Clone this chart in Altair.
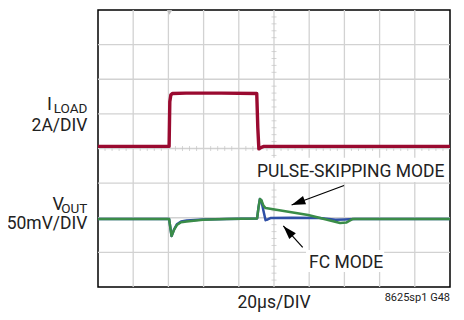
import altair as alt
import pandas as pd

# --- trace data (x in divisions 0..10, y in divisions 0..8) ---
iload_x = [0, 2.02, 2.04, 2.07, 2.12, 2.5, 3.5, 4.51, 4.54, 4.57, 4.62, 4.70, 10]
iload_y = [4.06, 4.06, 5.35, 5.55, 5.59, 5.60, 5.60, 5.59, 4.6, 3.99, 4.02, 4.06, 4.06]

fc_x = [0, 2.02, 2.09, 2.16, 2.24, 2.36, 2.52, 2.98, 3.66, 4.52, 4.56, 4.60, 4.64, 4.70, 4.76, 4.82, 4.90, 5.5, 6.3, 6.75, 7.0, 7.3, 10]
fc_y = [1.965, 1.965, 1.47, 1.66, 1.81, 1.89, 1.92, 1.95, 1.965, 1.98, 2.30, 2.54, 2.50, 2.20, 1.93, 1.95, 1.99, 2.0, 1.99, 1.94, 1.95, 1.965, 1.965]

ps_x = [0, 2.02, 2.09, 2.16, 2.24, 2.36, 2.52, 2.98, 3.66, 4.52, 4.56, 4.60, 4.645, 4.70, 4.76, 5.97, 6.88, 7.05, 7.24, 10]
ps_y = [1.965, 1.965, 1.47, 1.65, 1.79, 1.87, 1.89, 1.94, 1.965, 1.98, 2.30, 2.54, 2.50, 2.35, 2.28, 2.08, 1.85, 1.86, 1.965, 1.965]

grid_x = [1, 2, 3, 4, 6, 7, 8, 9]
grid_y = [1, 2, 3, 5, 6, 7]
center_x = [5]
center_y = [4]
minor_x = [i / 5 for i in range(1, 50) if i % 5 != 0]
minor_y = [i / 5 for i in range(1, 40) if i % 5 != 0]

FONT = "Roboto, Liberation Sans, sans-serif"
RED = "#9a0a30"
GREEN = "#3a8c48"
BLUE = "#2f4fa6"

xs = alt.Scale(domain=[0, 10], nice=False, zero=False)
ys = alt.Scale(domain=[0, 8], nice=False, zero=False)


def X(field="x"):
    return alt.X(f"{field}:Q", scale=xs, axis=None)


def Y(field="y"):
    return alt.Y(f"{field}:Q", scale=ys, axis=None)


gx = alt.Chart(pd.DataFrame({"x": grid_x + center_x})).mark_rule(color="#d2d2d2", strokeWidth=1.3).encode(x=X())
gy = alt.Chart(pd.DataFrame({"y": grid_y + center_y})).mark_rule(color="#d2d2d2", strokeWidth=1.3).encode(y=Y())
mx = alt.Chart(pd.DataFrame({"x": minor_x, "y": [4] * len(minor_x)})).mark_tick(
    orient="vertical", size=5, thickness=1, color="#c4c4c4").encode(x=X(), y=Y())
my = alt.Chart(pd.DataFrame({"y": minor_y, "x": [5] * len(minor_y)})).mark_tick(
    orient="horizontal", size=5, thickness=1, color="#c4c4c4").encode(x=X(), y=Y())

trig = alt.Chart(pd.DataFrame({"x": [2.03], "y": [7.93]})).mark_point(
    shape="triangle-down", filled=True, color="#bdbdbd", size=30, opacity=1).encode(x=X(), y=Y())

# white boxes behind annotation text
boxes = alt.Chart(pd.DataFrame({
    "x": [4.46, 5.91], "x2": [9.89, 8.13], "y": [3.73, 1.07], "y2": [3.03, 0.43]
})).mark_rect(color="white").encode(x=X(), x2="x2:Q", y=Y(), y2="y2:Q")


def trace(xv, yv, color, width):
    df = pd.DataFrame({"x": xv, "y": yv, "o": list(range(len(xv)))})
    return alt.Chart(df).mark_line(color=color, strokeWidth=width, strokeJoin="round").encode(
        x=X(), y=Y(), order="o:Q")


t_il = trace(iload_x, iload_y, RED, 3.4)
t_fc = trace(fc_x, fc_y, BLUE, 2.5)
t_ps = trace(ps_x, ps_y, GREEN, 2.5)

# arrows
arrow_tail_x = [6.99, 5.815]
arrow_tail_y = [2.93, 1.147]
arrow_tip_x = [5.50, 5.264]
arrow_tip_y = [2.37, 1.763]
arrow_angle = [249.7, 317.7]

arr = pd.DataFrame({"x": arrow_tail_x, "y": arrow_tail_y, "x2": arrow_tip_x, "y2": arrow_tip_y,
                    "a": arrow_angle})
a_line = alt.Chart(arr).mark_rule(color="black", strokeWidth=1.2).encode(
    x=X(), y=Y(), x2="x2:Q", y2="y2:Q")
a_head = alt.Chart(arr).mark_point(
    shape="M0,0L-0.32,1L0.32,1Z", filled=True, color="black", size=760, opacity=1
).encode(x=X("x2"), y=Y("y2"), angle=alt.Angle("a:Q", scale=None))


def label(text, x, y, size, align="right", color="#222222"):
    return alt.Chart(pd.DataFrame({"x": [x], "y": [y], "t": [text]})).mark_text(
        align=align, baseline="alphabetic", font=FONT, fontSize=size, color=color
    ).encode(x=X(), y=Y(), text="t:N")


labels = [
    label("I", -1.31, 5.12, 18),
    label("LOAD", -0.30, 5.03, 13.5),
    label("2A/DIV", -0.30, 4.51, 17.5),
    label("V", -0.97, 2.21, 18),
    label("OUT", -0.30, 2.13, 13.5),
    label("50mV/DIV", -0.30, 1.67, 17.5),
    label("20µs/DIV", 5.0, -0.60, 17.5, align="center"),
    label("8625sp1 G48", 10.0, -0.40, 11),
    label("PULSE-SKIPPING MODE", 7.18, 3.19, 17.5, align="center"),
    label("FC MODE", 7.05, 0.54, 17.5, align="center"),
]

chart = alt.layer(
    gx, gy, mx, my, trig, boxes, t_il, t_fc, t_ps, a_line, a_head, *labels
).properties(
    width=352, height=277, autosize="none",
    padding={"left": 90, "top": 2, "right": 6, "bottom": 25},
).configure_view(stroke="black", strokeWidth=1.5)

chart.save("out.html", embed_options={"renderer": "svg", "actions": False})
